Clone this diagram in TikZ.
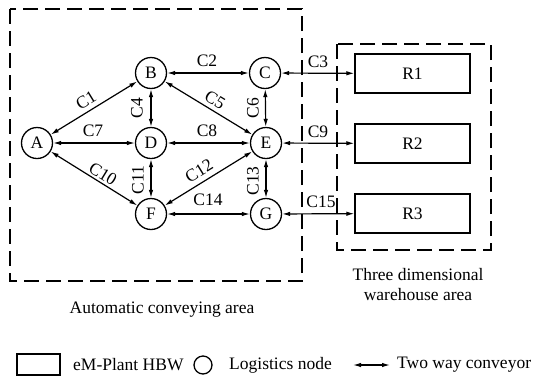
\documentclass[tikz,border=0pt]{standalone}
\usepackage{fontspec}
\setmainfont{Liberation Serif}
\usetikzlibrary{arrows.meta}
\begin{document}
\begin{tikzpicture}[x=1pt,y=-1pt,
  font=\fontsize{17.5}{20}\selectfont,
  lnode/.style={circle,draw,line width=1.3pt,minimum size=31pt,inner sep=0pt},
  rbox/.style={rectangle,draw,line width=1.3pt,minimum width=115pt,minimum height=39pt,inner sep=0pt},
  area/.style={draw,line width=1.6pt,dash pattern=on 15pt off 7pt},
  conv/.style={line width=1.2pt,{Latex[length=8pt,width=4.5pt]}-{Latex[length=8pt,width=4.5pt]}},
  lab/.style={inner sep=0pt}]
\useasboundingbox (0,0) rectangle (537,378);
% areas
\draw[area] (10,9) rectangle (302,281);
\draw[area] (337,44) rectangle (491,250);
% nodes
\node[lnode] (A) at (37,143) {A};
\node[lnode] (B) at (151,73) {B};
\node[lnode] (C) at (265,73) {C};
\node[lnode] (D) at (151,143) {D};
\node[lnode] (E) at (266,143) {E};
\node[lnode] (F) at (151,214) {F};
\node[lnode] (G) at (266,214) {G};
\node[rbox] (R1) at (412.5,73.5) {R1};
\node[rbox] (R2) at (412.5,143.5) {R2};
\node[rbox] (R3) at (412.5,213.5) {R3};
% connectors
\draw[conv] (A) -- (B);
\draw[conv] (B) -- (C);
\draw[conv] (C) -- (R1);
\draw[conv] (B) -- (D);
\draw[conv] (B) -- (E);
\draw[conv] (C) -- (E);
\draw[conv] (A) -- (D);
\draw[conv] (D) -- (E);
\draw[conv] (E) -- (R2);
\draw[conv] (A) -- (F);
\draw[conv] (D) -- (F);
\draw[conv] (E) -- (F);
\draw[conv] (E) -- (G);
\draw[conv] (F) -- (G);
\draw[conv] (G) -- (R3);
% labels
\node[lab,rotate=31.5] (l1) at (86,100) {C1};
\node[lab] (l2) at (207,61) {C2};
\node[lab] (l3) at (318,62) {C3};
\node[lab,rotate=90] (l4) at (137,108) {C4};
\node[lab,rotate=-31.5] (l5) at (215,100) {C5};
\node[lab,rotate=90] (l6) at (253,108) {C6};
\node[lab] (l7) at (93,131) {C7};
\node[lab] (l8) at (207,131) {C8};
\node[lab] (l9) at (318,132) {C9};
\node[lab,rotate=-31.5] (l10) at (103,174) {C10};
\node[lab,rotate=90] (l11) at (138,180) {C11};
\node[lab,rotate=31.5] (l12) at (199,171) {C12};
\node[lab,rotate=90] (l13) at (253,181) {C13};
\node[lab] (l14) at (208,200) {C14};
\node[lab] (l15) at (321,202) {C15};
% area captions
\node[lab] (t1) at (418,275) {Three dimensional};
\node[lab] (t2) at (418,295) {warehouse area};
\node[lab] (t3) at (162,310) {Automatic conveying area};
% legend
\node[draw,line width=1.3pt,minimum width=43pt,minimum height=21pt,inner sep=0pt] (lg1) at (38.5,364.5) {};
\node[lab,anchor=west] (lt1) at (73,365) {eM-Plant HBW};
\node[circle,draw,line width=1.3pt,minimum size=18pt,inner sep=0pt] (lg2) at (203,365) {};
\node[lab,anchor=west] (lt2) at (229,365) {Logistics node};
\coordinate (la) at (353,365);
\coordinate (lb) at (390,365);
\draw[conv] (la) -- (lb);
\node[lab,anchor=west] (lt3) at (397,365) {Two way conveyor};
\end{tikzpicture}
\end{document}
